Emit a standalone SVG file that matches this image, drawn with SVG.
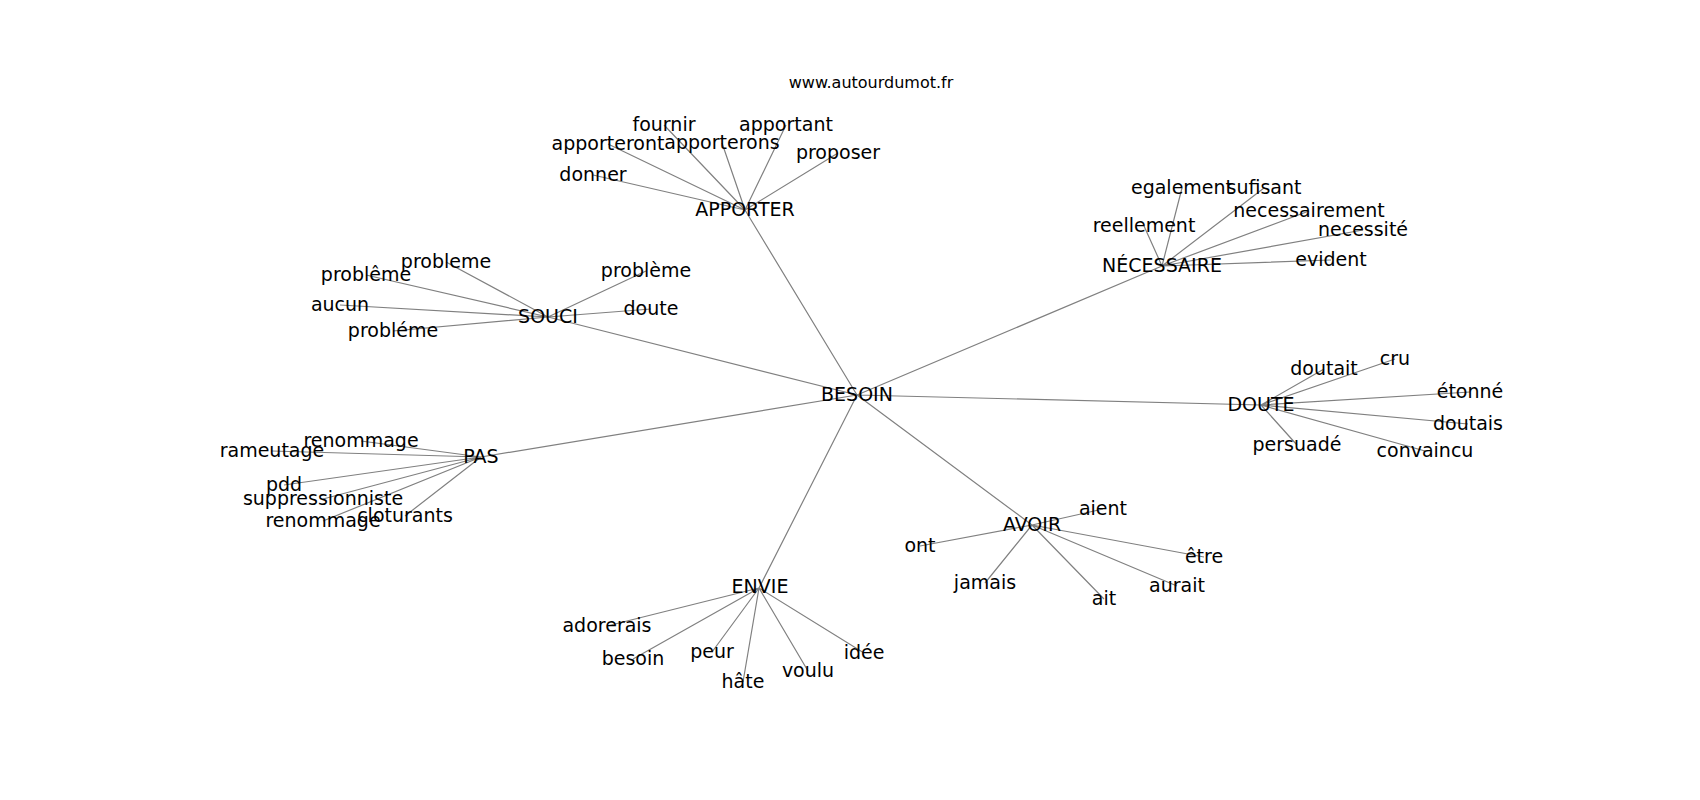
<svg xmlns="http://www.w3.org/2000/svg" width="1700" height="800" viewBox="0 0 1700 800">
<style>
.e{stroke:#808080;stroke-width:1.2;fill:none}
.n{font-family:"DejaVu Sans",sans-serif;font-size:19px;fill:#000;text-anchor:middle}
.t{font-family:"DejaVu Sans",sans-serif;font-size:16px;fill:#000;text-anchor:middle}
</style>
<rect width="1700" height="800" fill="#fff"/>
<text class="t" x="871" y="88">www.autourdumot.fr</text>
<g id="edges" class="e">
<path d="M857 395L745 210M857 395L1162 266M857 395L1261 405M857 395L1032 525M857 395L759 588M857 395L481 457M857 395L548 317"/>
<path d="M745 210L664 125M745 210L786 125M745 210L608 144M745 210L722 143M745 210L838 153M745 210L593 175"/>
<path d="M1162 266L1182 188M1162 266L1264 188M1162 266L1309 211M1162 266L1144 226M1162 266L1363 230M1162 266L1331 260"/>
<path d="M1261 405L1324 369M1261 405L1395 359M1261 405L1470 392M1261 405L1468 424M1261 405L1297 445M1261 405L1425 451"/>
<path d="M548 317L446 262M548 317L366 275M548 317L646 271M548 317L340 305M548 317L651 309M548 317L393 331"/>
<path d="M481 457L361 441M481 457L272 451M481 457L284 485M481 457L323 499M481 457L323 521M481 457L405 516"/>
<path d="M759 588L607 626M759 588L633 659M759 588L712 652M759 588L743 682M759 588L808 671M759 588L864 653"/>
<path d="M1032 525L1103 509M1032 525L920 546M1032 525L1204 557M1032 525L985 583M1032 525L1104 599M1032 525L1177 586"/>
</g>
<g id="BESOIN"><text class="n" x="857" y="401">BESOIN</text></g>
<g id="APPORTER"><text class="n" x="745" y="216">APPORTER</text>
<text class="n" x="664" y="131">fournir</text>
<text class="n" x="786" y="131">apportant</text>
<text class="n" x="608" y="150">apporteront</text>
<text class="n" x="722" y="149">apporterons</text>
<text class="n" x="838" y="159">proposer</text>
<text class="n" x="593" y="181">donner</text></g>
<g id="NECESSAIRE"><text class="n" x="1162" y="272">NÉCESSAIRE</text>
<text class="n" x="1182" y="194">egalement</text>
<text class="n" x="1264" y="194">sufisant</text>
<text class="n" x="1309" y="217">necessairement</text>
<text class="n" x="1144" y="232">reellement</text>
<text class="n" x="1363" y="236">necessité</text>
<text class="n" x="1331" y="266">evident</text></g>
<g id="DOUTE"><text class="n" x="1261" y="411">DOUTE</text>
<text class="n" x="1324" y="375">doutait</text>
<text class="n" x="1395" y="365">cru</text>
<text class="n" x="1470" y="398">étonné</text>
<text class="n" x="1468" y="430">doutais</text>
<text class="n" x="1297" y="451">persuadé</text>
<text class="n" x="1425" y="457">convaincu</text></g>
<g id="SOUCI"><text class="n" x="548" y="323">SOUCI</text>
<text class="n" x="446" y="268">probleme</text>
<text class="n" x="366" y="281">problême</text>
<text class="n" x="646" y="277">problème</text>
<text class="n" x="340" y="311">aucun</text>
<text class="n" x="651" y="315">doute</text>
<text class="n" x="393" y="337">probléme</text></g>
<g id="PAS"><text class="n" x="481" y="463">PAS</text>
<text class="n" x="361" y="447">renommage</text>
<text class="n" x="272" y="457">rameutage</text>
<text class="n" x="284" y="491">pdd</text>
<text class="n" x="323" y="505">suppressionniste</text>
<text class="n" x="323" y="527">renommage</text>
<text class="n" x="405" y="522">cloturants</text></g>
<g id="ENVIE"><text class="n" x="760" y="593">ENVIE</text>
<text class="n" x="607" y="632">adorerais</text>
<text class="n" x="633" y="665">besoin</text>
<text class="n" x="712" y="658">peur</text>
<text class="n" x="743" y="688">hâte</text>
<text class="n" x="808" y="677">voulu</text>
<text class="n" x="864" y="659">idée</text></g>
<g id="AVOIR"><text class="n" x="1032" y="531">AVOIR</text>
<text class="n" x="1103" y="515">aient</text>
<text class="n" x="920" y="552">ont</text>
<text class="n" x="1204" y="563">être</text>
<text class="n" x="985" y="589">jamais</text>
<text class="n" x="1104" y="605">ait</text>
<text class="n" x="1177" y="592">aurait</text></g>
</svg>
